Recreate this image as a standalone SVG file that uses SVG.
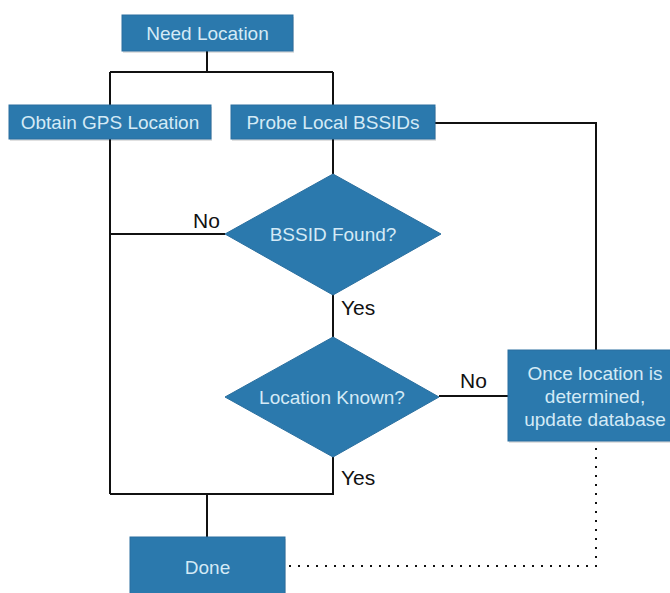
<svg xmlns="http://www.w3.org/2000/svg" width="670" height="593" viewBox="0 0 670 593">
<defs>
<style>
.box{fill:#2b79ad;stroke:#2a6f9f;stroke-width:1}
.shadow{fill:#000;opacity:0.12}
.t{font-family:"Liberation Sans",Arial,sans-serif;font-size:19px;fill:#d4eaf6;text-anchor:middle}
.lbl{font-family:"Liberation Sans",Arial,sans-serif;font-size:21px;fill:#111}
.ln{fill:none;stroke:#111;stroke-width:2}
.dot{fill:none;stroke:#111;stroke-width:2;stroke-dasharray:2 7}
</style>
</defs>
<rect width="670" height="593" fill="#ffffff"/>
<g id="connectors">
<path class="ln" d="M207 51 V72 M110 72 H333 M110 72 V494 M333 72 V105"/>
<path class="ln" d="M333 139 V174"/>
<path class="ln" d="M110 234 H225"/>
<path class="ln" d="M333 294 V337"/>
<path class="ln" d="M333 457 V494 H110"/>
<path class="ln" d="M207 494 V537"/>
<path class="ln" d="M435 123 H596 V350"/>
<path class="ln" d="M439 396 H508"/>
<path class="dot" d="M289 566 H596 V446"/>
<text class="lbl" x="193" y="228">No</text>
<text class="lbl" x="341" y="315">Yes</text>
<text class="lbl" x="460" y="388">No</text>
<text class="lbl" x="341" y="485">Yes</text>
</g>
<g id="need-location">
<rect class="shadow" x="123" y="17" width="171" height="36"/>
<rect class="box" x="122" y="15" width="171" height="36"/>
<text class="t" x="207.5" y="40">Need Location</text>
</g>
<g id="obtain-gps">
<rect class="shadow" x="10" y="107" width="202" height="34"/>
<rect class="box" x="9" y="105" width="202" height="34"/>
<text class="t" x="110" y="129">Obtain GPS Location</text>
</g>
<g id="probe-bssids">
<rect class="shadow" x="232" y="107" width="204" height="34"/>
<rect class="box" x="231" y="105" width="204" height="34"/>
<text class="t" x="333" y="129">Probe Local BSSIDs</text>
</g>
<g id="bssid-found">
<polygon class="box" points="333,174 441,234 333,295 225,234" stroke="none"/>
<text class="t" x="333" y="241">BSSID Found?</text>
</g>
<g id="location-known">
<polygon class="box" points="333,337 439,397 333,457 225,397" stroke="none"/>
<text class="t" x="332" y="404">Location Known?</text>
</g>
<g id="update-database">
<rect class="shadow" x="509" y="352" width="165" height="91"/>
<rect class="box" x="508" y="350" width="165" height="91"/>
<text class="t" x="595" y="380">Once location is</text>
<text class="t" x="595" y="403">determined,</text>
<text class="t" x="595" y="426">update database</text>
</g>
<g id="done">
<rect class="shadow" x="131" y="539" width="155" height="60"/>
<rect class="box" x="130" y="537" width="155" height="60"/>
<text class="t" x="207.5" y="574">Done</text>
</g>
</svg>
